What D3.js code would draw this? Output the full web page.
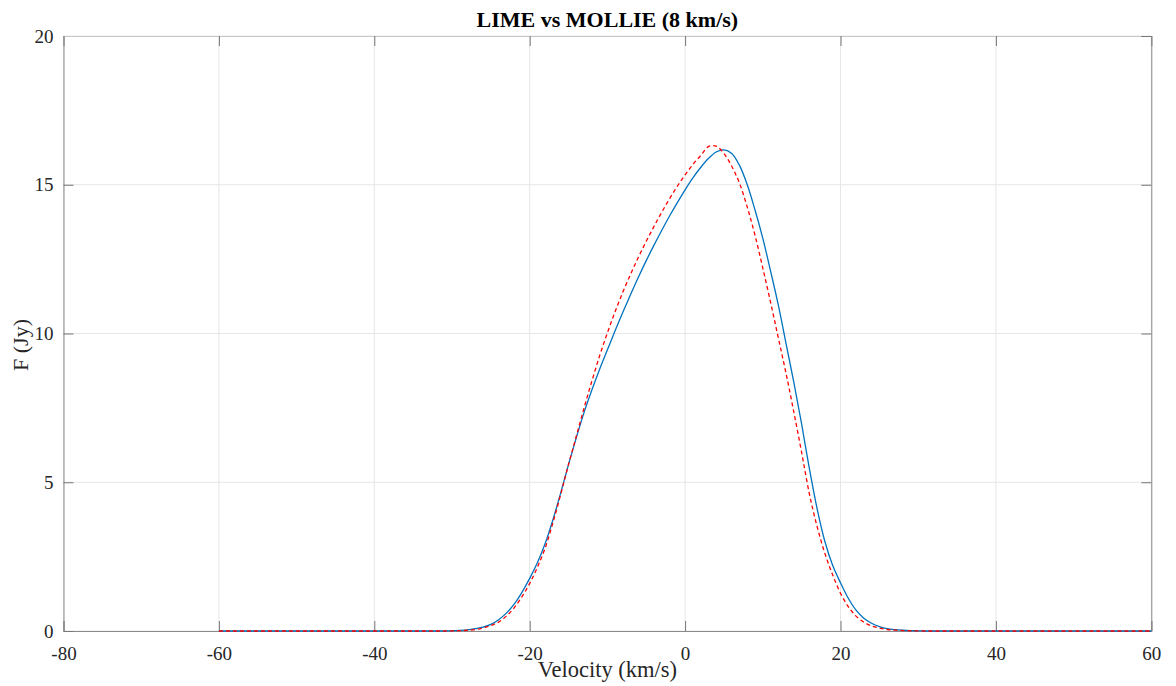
<!DOCTYPE html>
<html><head><meta charset="utf-8">
<script src="https://cdn.jsdelivr.net/npm/d3@7"></script>
<style>body{margin:0;background:#fff}svg{display:block}</style>
</head><body><svg id="c" width="1176" height="686"></svg>
<script>
const velocity = d3.range(-60, 61, 1);
// values on -30..30 km/s (zero outside)
const limeCore = [0.01,0.02,0.04,0.08,0.13,0.22,0.38,0.6,0.9,1.3,1.77,2.3,2.95,3.75,4.65,5.6,6.5,7.35,8.1,8.8,9.45,10.1,10.72,11.32,11.9,12.45,12.97,13.47,13.95,14.4,14.83,15.23,15.58,15.88,16.1,16.17,16.05,15.65,15.0,14.15,13.2,12.1,10.95,9.65,8.35,6.95,5.45,4.1,3.0,2.2,1.62,1.1,0.7,0.43,0.26,0.15,0.08,0.045,0.025,0.012,0.006];
const mollieCore = [0.005,0.01,0.025,0.05,0.1,0.18,0.3,0.5,0.78,1.15,1.6,2.15,2.8,3.65,4.6,5.6,6.55,7.5,8.4,9.25,10.02,10.74,11.4,12.0,12.57,13.1,13.6,14.08,14.53,14.95,15.33,15.68,15.98,16.28,16.3,16.05,15.62,15.05,14.25,13.3,12.2,11.05,9.85,8.65,7.35,6.0,4.6,3.5,2.6,1.88,1.27,0.82,0.5,0.3,0.17,0.1,0.05,0.03,0.015,0.008,0.004];
const lime = velocity.map(v => (v >= -30 && v <= 30) ? limeCore[v + 30] : 0);
const mollie = velocity.map(v => (v >= -30 && v <= 30) ? mollieCore[v + 30] : 0);
const xTicks = [-80,-60,-40,-20,0,20,40,60];
const yTicks = [0,5,10,15,20];

const svg = d3.select('#c');
const L = 63.5, R = 1151.3, T = 36, B = 631;
const x = d3.scaleLinear().domain([-80, 60]).range([L, R]);
const y = d3.scaleLinear().domain([0, 20]).range([B, T]);
const font = '"Liberation Serif", "Times New Roman", serif';

// grid
svg.append('g').selectAll('line').data(xTicks).join('line')
  .attr('x1', d => x(d)).attr('x2', d => x(d)).attr('y1', T).attr('y2', B)
  .attr('stroke', '#e6e6e6').attr('stroke-width', 1);
svg.append('g').selectAll('line').data(yTicks).join('line')
  .attr('x1', L).attr('x2', R).attr('y1', d => y(d)).attr('y2', d => y(d))
  .attr('stroke', '#e6e6e6').attr('stroke-width', 1);

// axes
const fmt = d => String(d);
const ax = d3.axisBottom(x).tickValues(xTicks).tickFormat(fmt).tickSize(-10).tickPadding(16);
const gx = svg.append('g').attr('transform', `translate(0,${B})`).call(ax);
const ay = d3.axisLeft(y).tickValues(yTicks).tickFormat(fmt).tickSize(-10).tickPadding(10);
const gy = svg.append('g').attr('transform', `translate(${L},0)`).call(ay);
const axTop = d3.axisTop(x).tickValues(xTicks).tickSize(-10).tickFormat('');
const gxt = svg.append('g').attr('transform', `translate(0,${T})`).call(axTop);
const ayR = d3.axisRight(y).tickValues(yTicks).tickSize(-10).tickFormat('');
const gyr = svg.append('g').attr('transform', `translate(${R},0)`).call(ayR);
[gx, gy, gxt, gyr].forEach(g => {
  g.select('.domain').attr('stroke', '#8a8a8a');
  g.selectAll('.tick line').attr('stroke', '#777');
  g.selectAll('.tick text').attr('fill', '#262626').style('font-family', font).style('font-size', '19px');
});
gxt.select('.domain').attr('stroke', '#c8c8c8');

// lines
const line = d3.line().curve(d3.curveCatmullRom.alpha(0.5));
svg.append('path').datum(velocity.map((v, i) => [x(v), y(lime[i])]))
  .attr('d', line).attr('fill', 'none').attr('stroke', '#0072BD').attr('stroke-width', 1.3);
svg.append('path').datum(velocity.map((v, i) => [x(v), y(mollie[i])]))
  .attr('d', line).attr('fill', 'none').attr('stroke', '#ff0000').attr('stroke-width', 1.3)
  .attr('stroke-dasharray', '4,3');

// text
svg.append('text').attr('x', (L + R) / 2).attr('y', 27).attr('text-anchor', 'middle')
  .style('font-family', font).style('font-size', '22px').style('font-weight', 'bold')
  .attr('fill', '#000').text('LIME vs MOLLIE (8 km/s)');
svg.append('text').attr('x', (L + R) / 2).attr('y', 677).attr('text-anchor', 'middle')
  .style('font-family', font).style('font-size', '22.5px').attr('fill', '#262626').text('Velocity (km/s)');
svg.append('text').attr('transform', `translate(28,345) rotate(-90)`).attr('text-anchor', 'middle')
  .style('font-family', font).style('font-size', '22px').attr('fill', '#262626').text('F (Jy)');
</script></body></html>
